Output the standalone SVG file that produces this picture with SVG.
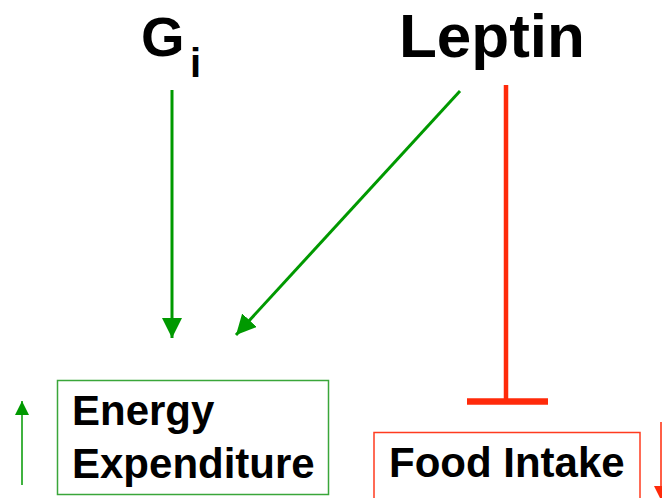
<svg xmlns="http://www.w3.org/2000/svg" width="662" height="498" viewBox="0 0 662 498">
<defs>
<style>
.t{font-family:"Liberation Sans",Arial,sans-serif;font-weight:bold;fill:#000}
.g{stroke:#009900;fill:none}
.r{stroke:#ff2a0a;fill:none}
</style>
<marker id="ga" markerUnits="userSpaceOnUse" markerWidth="20" markerHeight="20" viewBox="0 0 20 20" refX="20" refY="10" orient="auto">
<path d="M0,0 L20,10 L0,20 z" fill="#009900"/>
</marker>
<marker id="gs" markerUnits="userSpaceOnUse" markerWidth="14" markerHeight="14" viewBox="0 0 14 14" refX="14" refY="7" orient="auto">
<path d="M0,0 L14,7 L0,14 z" fill="#009900"/>
</marker>
<marker id="rs" markerUnits="userSpaceOnUse" markerWidth="14" markerHeight="14" viewBox="0 0 14 14" refX="14" refY="7" orient="auto">
<path d="M0,0 L14,7 L0,14 z" fill="#ff2a0a"/>
</marker>
</defs>
<rect width="662" height="498" fill="#fff"/>
<g id="gi">
<text class="t" x="141" y="56" font-size="56">G</text>
<text class="t" x="190" y="77" font-size="40">i</text>
</g>
<g id="leptin">
<text class="t" x="399" y="57" font-size="62">Leptin</text>
</g>
<g id="energy">
<rect x="57.5" y="380.5" width="271" height="114" fill="none" stroke="#3aa63a" stroke-width="1.5"/>
<text class="t" x="72" y="425" font-size="42">Energy</text>
<text class="t" x="72" y="478" font-size="42">Expenditure</text>
</g>
<g id="food">
<rect x="374" y="432.5" width="266" height="70" fill="none" stroke="#ff3b1f" stroke-width="1.5"/>
<text class="t" x="389" y="477" font-size="42">Food Intake</text>
</g>
<g id="connectors">
<line class="g" x1="172" y1="90" x2="172" y2="338" stroke-width="3" marker-end="url(#ga)"/>
<line class="g" x1="460" y1="91" x2="236" y2="335" stroke-width="3" marker-end="url(#ga)"/>
<line class="r" x1="506" y1="85" x2="506" y2="399" stroke-width="4.5"/>
<line class="r" x1="467" y1="401.5" x2="548" y2="401.5" stroke-width="6.5"/>
<line class="g" x1="22" y1="485" x2="22" y2="401" stroke-width="1.5" marker-end="url(#gs)"/>
<line class="r" x1="661" y1="422" x2="661" y2="500" stroke-width="1.5" marker-end="url(#rs)"/>
</g>
</svg>
